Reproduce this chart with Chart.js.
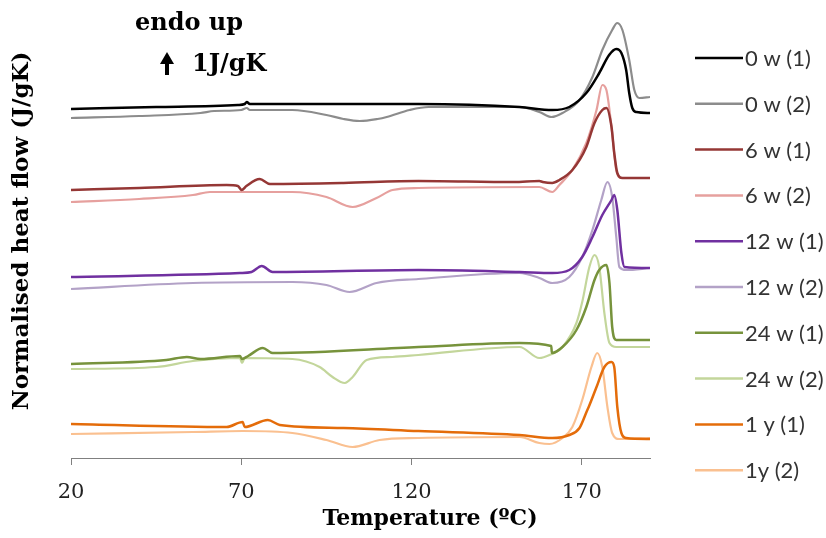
<!DOCTYPE html>
<html>
<head>
<meta charset="utf-8">
<script src="https://cdn.jsdelivr.net/npm/chart.js@4.4.1/dist/chart.umd.min.js"></script>
<style>
  html, body { margin: 0; padding: 0; background: #fff; }
  #wrap { width: 826px; height: 538px; }
</style>
</head>
<body>
<div id="wrap"><canvas id="myChart" width="826" height="538"></canvas></div>
<script>
// temperature (C) and normalised heat flow (offset, arbitrary units)
var t0w1  = [20, 45, 69, 71, 71.6, 72.5, 90, 122, 151.7, 161.3, 166.3, 171.3, 175.1, 178, 180.1, 181.6, 183, 183.9, 184.8, 186, 190];
var hf0w1 = [34.9, 35.1, 35.3, 35.4, 35.6, 35.4, 35.4, 35.4, 35.1, 34.8, 35.1, 36.5, 38.5, 40.3, 40.9, 40.5, 38.8, 36.5, 35.0, 34.6, 34.5];

var t0w2  = [20, 40, 58, 62, 70, 71.6, 72.5, 85, 95, 100, 104.8, 110, 112.7, 119.4, 125, 151.7, 157.5, 161.1, 164.3, 169.3, 173.1, 176, 178.9, 180.4, 181.9, 183.9, 185.4, 186.9, 190];
var hf0w2 = [34.0, 34.2, 34.5, 34.7, 34.8, 35.0, 34.8, 34.8, 34.3, 33.9, 33.7, 33.9, 34.1, 34.8, 35.1, 35.1, 34.6, 34.1, 34.5, 35.8, 38.1, 40.8, 42.8, 43.5, 42.8, 39.8, 36.8, 36.0, 36.1];

var t6w1  = [20, 40, 65.7, 69, 70.1, 71.5, 75.4, 78.4, 100, 122, 150, 157.5, 158.5, 161.3, 163.4, 167.2, 171.3, 173.7, 176, 177.2, 178.7, 179.5, 180.4, 181.9, 190];
var hf6w1 = [26.8, 27.0, 27.3, 27.2, 26.8, 27.2, 27.9, 27.4, 27.5, 27.7, 27.6, 27.7, 27.6, 27.5, 27.8, 28.8, 31.1, 33.5, 34.8, 35.0, 33.1, 30.5, 28.5, 28.0, 28.0];

var t6w2  = [20, 40, 55.8, 60.8, 85, 95, 102.7, 109.7, 114.4, 122, 157.5, 161.3, 163.4, 167.2, 171.3, 174.3, 176, 177.2, 178.7, 180.1, 181.6, 190];
var hf6w2 = [25.6, 25.9, 26.3, 26.6, 26.6, 26.1, 25.1, 26.0, 26.8, 27.0, 27.1, 26.6, 27.3, 28.8, 31.5, 34.8, 37.3, 36.8, 33.1, 28.8, 28.0, 28.0];

var t12w1  = [20, 69.6, 73, 76, 79.2, 122, 151.7, 161.3, 166.3, 170.1, 173.1, 176, 178.7, 179.5, 180.4, 181.6, 182.5, 190];
var hf12w1 = [18.1, 18.5, 18.6, 19.2, 18.6, 18.8, 18.6, 18.5, 18.8, 20.1, 22.1, 24.3, 25.8, 26.3, 24.8, 20.5, 19.1, 19.0];

var t12w2  = [20, 55.8, 85, 95, 101.8, 109.7, 122, 151.7, 157.5, 161.3, 166.3, 170.1, 173.1, 175.7, 177.5, 178.9, 180.1, 181, 183, 190];
var hf12w2 = [16.9, 17.5, 17.6, 17.3, 16.6, 17.5, 17.9, 18.5, 18.0, 17.5, 18.1, 20.1, 22.8, 25.8, 27.6, 26.1, 22.1, 19.1, 18.8, 19.0];

var t24w1  = [20, 48, 54, 58, 69.6, 70.2, 72, 76.3, 79.2, 122, 151.7, 161, 161.2, 164.3, 168.4, 171.3, 173.7, 175.1, 177.2, 178.1, 178.9, 180.1, 190];
var hf24w1 = [9.4, 9.8, 10.1, 9.9, 10.2, 9.9, 10.2, 11.0, 10.5, 11.1, 11.5, 11.2, 10.5, 11.1, 12.8, 15.1, 17.8, 18.8, 19.3, 17.5, 13.1, 11.8, 11.8];

var t24w2  = [20, 45, 55.8, 69.6, 70.2, 71, 85, 93, 96.8, 100.4, 102.7, 106.8, 114.4, 122, 151.7, 157.5, 160.5, 164.3, 168.4, 170.1, 172.2, 173.7, 175.1, 176.6, 178.1, 180.1, 190];
var hf24w2 = [8.9, 9.1, 9.7, 10.0, 9.5, 10.0, 9.9, 9.1, 8.1, 7.5, 8.1, 9.8, 10.1, 10.3, 11.1, 10.0, 10.3, 11.1, 13.5, 15.6, 19.1, 20.3, 19.1, 14.5, 11.5, 11.1, 11.1];

var t1y1  = [20, 65.7, 70.4, 71, 77.8, 81.3, 100, 122, 151.7, 161.3, 166.3, 169.3, 171.6, 172, 174.3, 176.6, 178.7, 179.5, 180.4, 181.6, 183, 190];
var hf1y1 = [3.4, 3.1, 3.6, 3.1, 3.8, 3.3, 3.0, 2.7, 2.3, 2.0, 2.3, 3.0, 4.8, 5.1, 7.1, 9.1, 9.6, 9.1, 5.1, 2.5, 2.0, 1.9];

var t1y2  = [20, 55.8, 70.4, 85, 95, 102.7, 110.6, 122, 151.7, 157.5, 160.5, 164.3, 167.2, 170.1, 172.8, 174.5, 176, 177.5, 178.9, 181, 190];
var hf1y2 = [2.4, 2.6, 2.7, 2.5, 1.8, 1.1, 1.8, 2.0, 2.1, 1.5, 1.4, 2.0, 3.1, 5.8, 9.1, 10.5, 9.1, 5.1, 2.5, 1.9, 2.0];

var seriesNames = ['0 w (1)', '0 w (2)', '6 w (1)', '6 w (2)', '12 w (1)', '12 w (2)', '24 w (1)', '24 w (2)', '1 y (1)', '1y (2)'];
var seriesTemps = [t0w1, t0w2, t6w1, t6w2, t12w1, t12w2, t24w1, t24w2, t1y1, t1y2];
var seriesFlows = [hf0w1, hf0w2, hf6w1, hf6w2, hf12w1, hf12w2, hf24w1, hf24w2, hf1y1, hf1y2];
var seriesColors = ['#000000', '#8c8c8c', '#953735', '#e6a09e', '#7030a0', '#b3a2c7', '#77933c', '#c3d69b', '#e46c0a', '#fac090'];

var xTicks = [20, 70, 120, 170];
var xTitle = 'Temperature (ºC)';
var yTitle = 'Normalised heat flow (J/gK)';

var datasets = seriesNames.map(function(name, i) {
  return {
    label: name,
    data: seriesTemps[i].map(function(t, j) { return {x: t, y: seriesFlows[i][j]}; }),
    borderColor: seriesColors[i],
    backgroundColor: seriesColors[i],
    borderWidth: i % 2 === 0 ? 2.5 : 2.2,
    pointRadius: 0,
    cubicInterpolationMode: 'monotone',
    fill: false
  };
});

// axis titles, legend on the right and the "endo up" scale note
var extras = {
  id: 'extras',
  afterDraw: function(chart) {
    var ctx = chart.ctx;
    ctx.save();
    ctx.fillStyle = '#000';
    ctx.textAlign = 'center';
    ctx.textBaseline = 'middle';
    ctx.font = 'bold 22px "DejaVu Serif"';
    ctx.fillText(xTitle, 430, 519);
    ctx.save();
    ctx.translate(22, 231);
    ctx.rotate(-Math.PI / 2);
    ctx.font = 'bold 23px "DejaVu Serif"';
    ctx.fillText(yTitle, 0, 0);
    ctx.restore();

    ctx.textAlign = 'left';
    ctx.font = '22px Lato';
    chart.data.datasets.forEach(function(ds, i) {
      var y = 58 + i * 45.8;
      ctx.strokeStyle = ds.borderColor;
      ctx.lineWidth = 2.5;
      ctx.beginPath();
      ctx.moveTo(695, y);
      ctx.lineTo(743, y);
      ctx.stroke();
      ctx.fillStyle = '#333';
      ctx.fillText(ds.label, 745, y + 1);
    });

    ctx.fillStyle = '#000';
    ctx.font = 'bold 24px "DejaVu Serif"';
    ctx.textBaseline = 'alphabetic';
    ctx.fillText('endo up', 135, 30);
    ctx.fillText('1J/gK', 192, 71);
    // arrow
    ctx.strokeStyle = '#000';
    ctx.lineWidth = 4;
    ctx.beginPath();
    ctx.moveTo(167, 75);
    ctx.lineTo(167, 62);
    ctx.stroke();
    ctx.beginPath();
    ctx.moveTo(160, 64);
    ctx.lineTo(167, 52);
    ctx.lineTo(174, 64);
    ctx.closePath();
    ctx.fill();
    ctx.restore();
  }
};

var canvas = document.getElementById('myChart');
var ctx = canvas.getContext('2d');

var myChart = new Chart(ctx, {
  type: 'line',
  data: { datasets: datasets },
  options: {
    responsive: false,
    animation: false,
    layout: { padding: { top: 18, right: 176, left: 71, bottom: 17 } },
    plugins: {
      legend: { display: false },
      tooltip: { enabled: false }
    },
    scales: {
      x: {
        type: 'linear',
        min: 20,
        max: 190,
        afterBuildTicks: function(scale) {
          scale.ticks = xTicks.map(function(v) { return {value: v}; });
        },
        grid: { drawOnChartArea: false, drawTicks: true, tickLength: 7, color: '#808080' },
        border: { display: true, color: '#808080', width: 1 },
        ticks: { font: { family: 'DejaVu Serif', size: 21 }, color: '#222', padding: 15.4, maxRotation: 0 }
      },
      y: {
        display: false,
        min: 0,
        max: 44
      }
    }
  },
  plugins: [extras]
});
</script>
</body>
</html>
